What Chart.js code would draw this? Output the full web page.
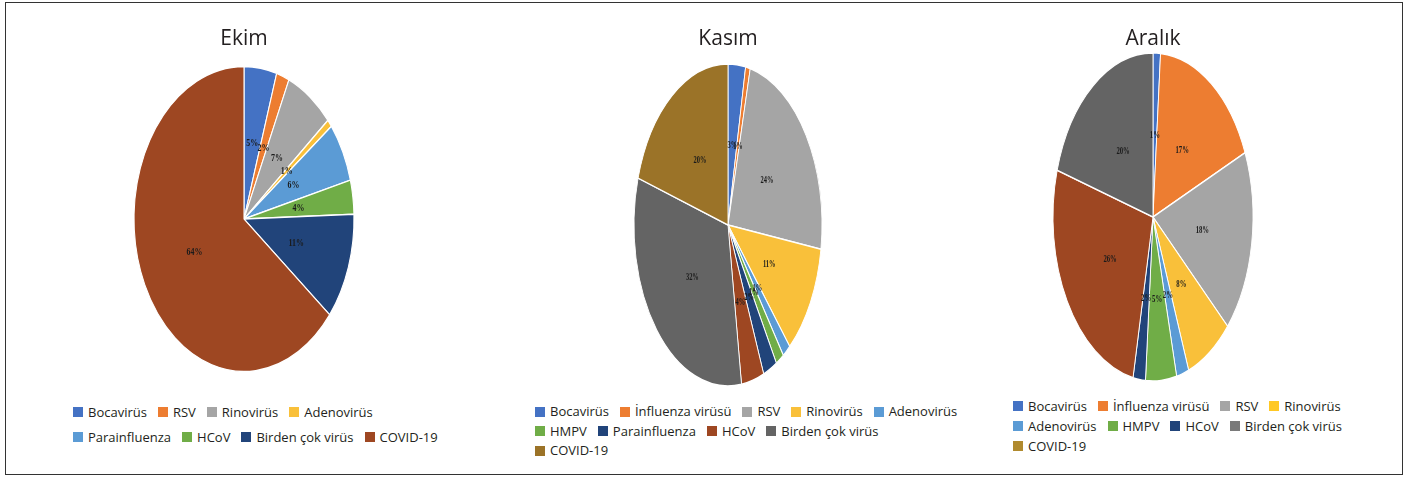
<!DOCTYPE html>
<html>
<head>
<meta charset="utf-8">
<script src="https://cdn.jsdelivr.net/npm/chart.js@4.4.0/dist/chart.umd.min.js"></script>
<style>
body { margin: 0; background: #fff; width: 1407px; height: 478px; position: relative; overflow: hidden; font-family: "Open Sans", sans-serif; }
#frame { position: absolute; left: 5px; top: 2px; width: 1398px; height: 473px; border: 1.5px solid #333; box-sizing: border-box; }
canvas { position: absolute; }
.legend { position: absolute; font-size: 13px; color: #231f20; }
.legend .row { display: flex; white-space: nowrap; }
.legend .item { display: flex; align-items: center; margin-right: 11px; }
.legend .box { width: 10px; height: 10px; margin-right: 5px; flex: none; }
</style>
</head>
<body>
<div id="frame"></div>
<canvas id="ekim" width="300" height="388" style="left:94px;top:0"></canvas>
<canvas id="kasim" width="300" height="400" style="left:578px;top:0"></canvas>
<canvas id="aralik" width="300" height="384" style="left:1003px;top:0"></canvas>
<div class="legend" id="ekimLegend" style="left:73px;top:400px;line-height:24.5px"></div>
<div class="legend" id="kasimLegend" style="left:535px;top:402px;line-height:19.5px"></div>
<div class="legend" id="aralikLegend" style="left:1013px;top:396px;line-height:20px"></div>
<script>
// values in percent
const ekimLabels = ['Bocavirüs', 'RSV', 'Rinovirüs', 'Adenovirüs', 'Parainfluenza', 'HCoV', 'Birden çok virüs', 'COVID-19']
const ekimValues = [4.8, 1.9, 7.1, 0.8, 6.3, 3.6, 11.3, 64.2]

const kasimLabels = ['Bocavirüs', 'İnfluenza virüsü', 'RSV', 'Rinovirüs', 'Adenovirüs', 'HMPV', 'Parainfluenza', 'HCoV', 'Birden çok virüs', 'COVID-19']
const kasimValues = [3.0, 0.8, 23.6, 11.2, 1.4, 1.4, 2.4, 3.9, 32.0, 20.3]

const aralikLabels = ['Bocavirüs', 'İnfluenza virüsü', 'RSV', 'Rinovirüs', 'Adenovirüs', 'HMPV', 'HCoV', 'Birden çok virüs', 'COVID-19']
const aralikValues = [1.2, 17.4, 18.0, 7.6, 2.0, 5.0, 2.0, 26.4, 20.4]

// office palette
const blue = '#4472C4', orange = '#ED7D31', lgray = '#A5A5A5', yellow = '#F9C03A', lblue = '#5B9BD5',
      green = '#70AD47', dblue = '#21447A', brown = '#9E4722', dgray = '#646464', gold = '#9B7328'

// squeeze the pie into an ellipse and write the % labels
const squash = {
    id: 'squash',
    beforeDatasetsDraw(chart, args, opts) {
        const c = chart.getDatasetMeta(0).data[0]
        const ctx = chart.ctx
        ctx.save()
        ctx.translate(c.x, c.y)
        ctx.scale(opts.sx, 1)
        ctx.translate(-c.x, -c.y)
    },
    afterDatasetsDraw(chart, args, opts) {
        const ctx = chart.ctx
        const values = chart.data.datasets[0].data
        const total = values.reduce((a, b) => a + b, 0)
        ctx.font = 'bold 11px "Liberation Serif"'
        ctx.fillStyle = '#1b1b1b'
        ctx.textAlign = 'center'
        ctx.textBaseline = 'middle'
        chart.getDatasetMeta(0).data.forEach((arc, i) => {
            const p = arc.tooltipPosition()
            ctx.fillText(Math.round(values[i] / total * 100) + '%', p.x, p.y)
        })
        ctx.restore()
    }
}

const htmlLegend = {
    id: 'htmlLegend',
    afterUpdate(chart, args, opts) {
        const box = document.getElementById(opts.containerID)
        box.innerHTML = ''
        const colors = opts.colors || chart.data.datasets[0].backgroundColor
        let i = 0
        opts.rows.forEach(n => {
            const row = document.createElement('div')
            row.className = 'row'
            for (let k = 0; k < n; k++, i++) {
                const item = document.createElement('div')
                item.className = 'item'
                const sw = document.createElement('span')
                sw.className = 'box'
                sw.style.background = colors[i]
                const txt = document.createElement('span')
                txt.textContent = chart.data.labels[i]
                item.appendChild(sw)
                item.appendChild(txt)
                row.appendChild(item)
            }
            box.appendChild(row)
        })
    }
}

function makePie(id, title, labels, values, colors, ry, rx, legendOpts) {
    return new Chart(document.getElementById(id), {
        type: 'pie',
        data: {
            labels: labels,
            datasets: [{
                data: values,
                backgroundColor: colors,
                borderColor: '#fff',
                borderWidth: 1.5,
                radius: ry,
                clip: false
            }]
        },
        options: {
            responsive: false,
            animation: false,
            events: [],
            plugins: {
                title: {
                    display: true,
                    text: title,
                    color: '#231f20',
                    font: { family: 'Open Sans', size: 21, weight: 'normal', lineHeight: 1 },
                    padding: { top: 29, bottom: 0 }
                },
                legend: { display: false },
                tooltip: { enabled: false },
                squash: { sx: rx / ry },
                htmlLegend: legendOpts
            }
        },
        plugins: [squash, htmlLegend]
    })
}

makePie('ekim', 'Ekim', ekimLabels, ekimValues,
    [blue, orange, lgray, yellow, lblue, green, dblue, brown], 152.5, 110,
    { containerID: 'ekimLegend', rows: [4, 4] })

makePie('kasim', 'Kasım', kasimLabels, kasimValues,
    [blue, orange, lgray, yellow, lblue, green, dblue, brown, dgray, gold], 161, 94,
    { containerID: 'kasimLegend', rows: [5, 4, 1] })

// legend swatches in the source do not follow the last two slices
makePie('aralik', 'Aralık', aralikLabels, aralikValues,
    [blue, orange, lgray, yellow, lblue, green, dblue, brown, dgray], 164, 100,
    { containerID: 'aralikLegend', rows: [4, 4, 1],
      colors: [blue, orange, lgray, '#FFC824', lblue, green, dblue, '#7A7A7A', '#B08A2E'] })
</script>
</body>
</html>
